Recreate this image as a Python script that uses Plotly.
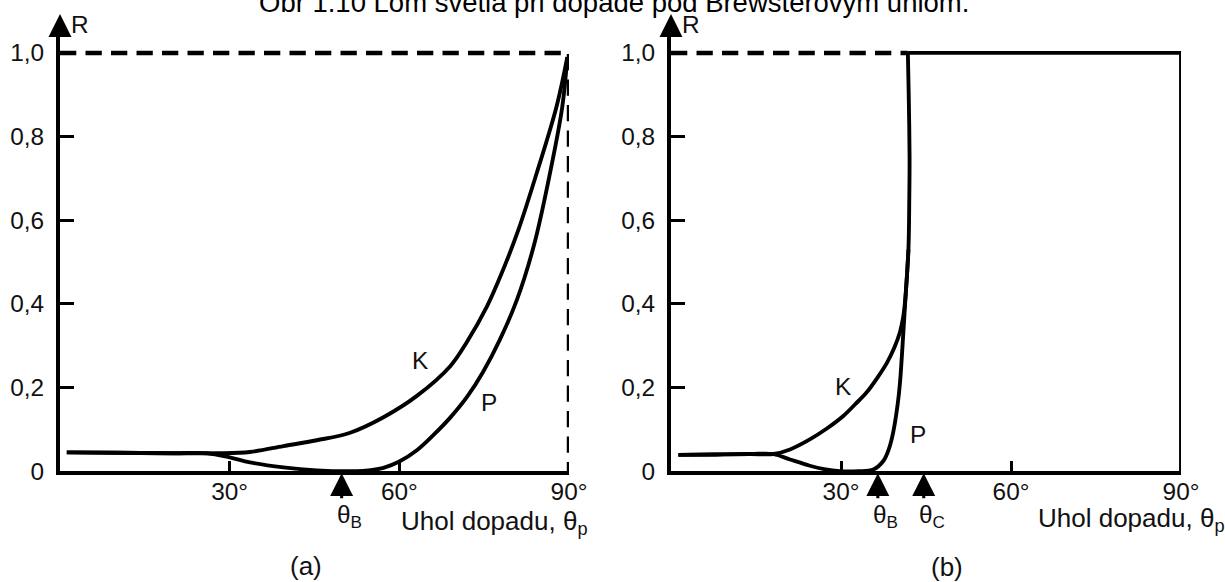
import plotly.graph_objects as go

# ---------------- data ----------------
# (a) reflectance R vs. angle of incidence (degrees); K = s-component, P = p-component
Ka_x = [1.2, 10, 20, 27.7, 33.6, 39.5, 45.4, 51.3, 57.2, 63.1, 69, 72, 75.5, 78, 81, 84.3, 87.8, 89.7]
Ka_y = [0.045, 0.044, 0.043, 0.043, 0.046, 0.06, 0.074, 0.092, 0.129, 0.18, 0.251, 0.31, 0.394, 0.47, 0.575, 0.713, 0.872, 0.99]
Pa_x = [1.2, 10, 20, 26, 30, 33.6, 39.5, 45.4, 51.3, 54, 57.2, 60, 63.1, 66, 69, 72, 74.8, 77.8, 80.8, 83.8, 86.6, 88.8, 89.7]
Pa_y = [0.045, 0.044, 0.043, 0.043, 0.033, 0.021, 0.009, 0.002, 0.0, 0.001, 0.008, 0.023, 0.05, 0.086, 0.128, 0.178, 0.237, 0.315, 0.41, 0.54, 0.71, 0.87, 0.99]

# (b) internal reflection, total reflection above the critical angle
Kb_x = [1.3, 8, 14, 18.1, 21, 24.5, 27.5, 30.4, 32.5, 34.5, 36.5, 38.1, 39.4, 40.4, 41.0, 41.4, 41.9]
Kb_y = [0.039, 0.04, 0.041, 0.041, 0.052, 0.076, 0.102, 0.132, 0.16, 0.188, 0.225, 0.259, 0.295, 0.332, 0.37, 0.42, 0.53]
Pb_x = [1.3, 8, 14, 18.1, 21, 24.5, 27, 29.8, 33, 35.7, 37.5, 38.5, 39.2, 40.0, 40.4, 41.0, 41.4, 41.9, 42.05, 42.1, 41.95, 41.8]
Pb_y = [0.039, 0.04, 0.041, 0.041, 0.028, 0.013, 0.005, 0.0, 0.0, 0.004, 0.025, 0.055, 0.092, 0.16, 0.21, 0.331, 0.42, 0.53, 0.65, 0.75, 0.9, 1.0]
TIR_x = [41.8, 90, 90]
TIR_y = [1.0, 1.0, 0.0]

full_a_x = [0, 90, 90]
full_a_y = [1.0, 1.0, 0.0]
full_b_x = [0, 41.8]
full_b_y = [1.0, 1.0]

theta_B_a = 49.8
theta_B_b = 36.5
theta_C_b = 44.6

x_ticks = [30, 60, 90]
x_ticktext = ["30°", "60°", "90°"]
y_ticks = [0, 0.2, 0.4, 0.6, 0.8, 1.0]
y_ticktext = ["0", "0,2", "0,4", "0,6", "0,8", "1,0"]

title_text = "Obr 1.10 Lom svetla pri dopade pod Brewsterovým uhlom."

# ---------------- figure ----------------
# layout designed in a 1225 x 582 frame (paper fractions); the figure is rendered
# slightly larger so that the captured page fills the picture
W, H = 1225, 582
FW, FH = 1243, 595
S = (FW / W + FH / H) / 2
FONT = "Liberation Sans, Arial, sans-serif"
FS = round(24 * S, 1)
FS_LAB = round(25.5 * S, 1)
Y_TOP = (472 - 28) / 419.0


def yp(px):
    return 1 - px / H


def xp(px):
    return px / W


fig = go.Figure()

solid = dict(color="black", width=3.8 * S)
dashed = dict(color="black", width=4.4 * S, dash=f"{16 * S:.1f}px,{9 * S:.1f}px")


def add(x, y, line, xa, ya, spline=True):
    ln = dict(line)
    if spline:
        ln.update(shape="spline", smoothing=1.0)
    fig.add_trace(go.Scatter(x=x, y=y, mode="lines", line=ln, xaxis=xa, yaxis=ya,
                             cliponaxis=False, showlegend=False, hoverinfo="skip"))


add(full_a_x, full_a_y, dashed, "x", "y", spline=False)
add(Ka_x, Ka_y, solid, "x", "y")
add(Pa_x, Pa_y, solid, "x", "y")
add(full_b_x, full_b_y, dashed, "x2", "y2", spline=False)
add(TIR_x, TIR_y, solid, "x2", "y2", spline=False)
add(Kb_x, Kb_y, solid, "x2", "y2")
add(Pb_x, Pb_y, solid, "x2", "y2")

ax_common = dict(showgrid=False, zeroline=False, showline=True, linewidth=round(3.8 * S), linecolor="black",
                 ticks="inside", tickwidth=3.2 * S, tickcolor="black",
                 tickfont=dict(family=FONT, size=FS, color="#111"), fixedrange=True)

fig.update_layout(
    width=FW, height=FH, margin=dict(l=0, r=0, t=0, b=0),
    paper_bgcolor="white", plot_bgcolor="white",
    xaxis=dict(domain=[xp(60), xp(569)], range=[0, 90], tickvals=x_ticks, ticktext=x_ticktext,
               ticklen=round(10 * S), anchor="y", ticklabelstandoff=-4, **ax_common),
    yaxis=dict(domain=[yp(472), yp(28)], range=[0, Y_TOP], tickvals=y_ticks, ticktext=y_ticktext,
               ticklen=round(14 * S), anchor="x", ticklabelstandoff=7, **ax_common),
    xaxis2=dict(domain=[xp(671), xp(1181)], range=[0, 90], tickvals=x_ticks, ticktext=x_ticktext,
                ticklen=round(10 * S), anchor="y2", ticklabelstandoff=-4, **ax_common),
    yaxis2=dict(domain=[yp(472), yp(28)], range=[0, Y_TOP], tickvals=y_ticks, ticktext=y_ticktext,
                ticklen=round(14 * S), anchor="x2", ticklabelstandoff=7, **ax_common),
    showlegend=False,
)

ann = []


def txt(x, y, t, xr, yr, size=FS, xanchor="center", yanchor="middle", xshift=0):
    ann.append(dict(x=x, y=y, xref=xr, yref=yr, text=t, showarrow=False, xanchor=xanchor, yanchor=yanchor,
                    xshift=xshift * S, font=dict(family=FONT, size=size, color="#111")))


def arrow(x, xr, yr, y=0, ay=28, standoff=2):
    ann.append(dict(x=x, y=y, xref=xr, yref=yr, ax=0, ay=ay * S, axref="pixel", ayref="pixel", text="",
                    showarrow=True, arrowhead=2, arrowsize=1.5, arrowwidth=3 * S, arrowcolor="black",
                    standoff=standoff))


ann.append(dict(x=xp(614), y=yp(3), xref="paper", yref="paper", text=title_text, showarrow=False,
                xanchor="center", yanchor="middle", font=dict(family=FONT, size=27 * S, color="black")))

arrow(0, "x", "paper", y=yp(14), ay=18, standoff=0)
arrow(0, "x2", "paper", y=yp(14), ay=18, standoff=0)

txt(3.6, yp(25), "R", "x", "paper")
txt(63.7, 0.265, "K", "x", "y")
txt(75.9, 0.165, "P", "x", "y")
arrow(theta_B_a, "x", "y")
txt(theta_B_a, yp(517), "θ<sub>B</sub>", "x", "paper", xanchor="left", xshift=-7)
txt(60.0, yp(523), "Uhol dopadu, θ<sub>p</sub>", "x", "paper", size=FS_LAB, xanchor="left")
txt(43.5, yp(567), "(a)", "x", "paper", size=FS_LAB)

txt(3.5, yp(25), "R", "x2", "paper")
txt(30.4, 0.203, "K", "x2", "y2")
txt(43.5, 0.088, "P", "x2", "y2")
arrow(theta_B_b, "x2", "y2")
arrow(theta_C_b, "x2", "y2")
txt(theta_B_b, yp(517), "θ<sub>B</sub>", "x2", "paper", xanchor="left", xshift=-7)
txt(theta_C_b, yp(517), "θ<sub>C</sub>", "x2", "paper", xanchor="left", xshift=-7)
txt(64.4, yp(520), "Uhol dopadu, θ<sub>p</sub>", "x2", "paper", size=FS_LAB, xanchor="left")
txt(48.7, yp(568), "(b)", "x2", "paper", size=FS_LAB)

fig.update_layout(annotations=ann)
fig.write_html("out.html")
